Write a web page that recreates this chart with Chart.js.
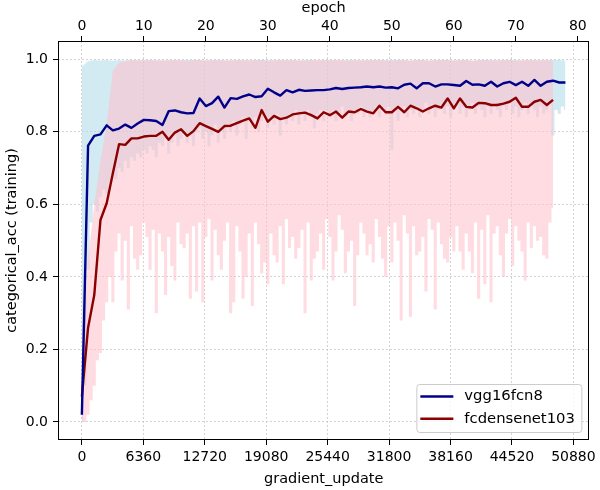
<!DOCTYPE html>
<html><head><meta charset="utf-8">
<script src="https://cdn.jsdelivr.net/npm/chart.js@4"></script>
<style>html,body{margin:0;padding:0;background:#fff}canvas{display:block}</style>
</head><body>
<canvas id="c" width="600" height="490" style="width:600px;height:490px"></canvas>
<script>
// ---- data ----
const seriesNames = ['vgg16fcn8', 'fcdensenet103'];
// epoch means (one value per epoch, epoch 0..78 / 0..76)
const vggEpochAcc = [0.02,0.762,0.789,0.793,0.818,0.804,0.809,0.820,0.811,0.823,
  0.833,0.832,0.830,0.819,0.857,0.859,0.854,0.851,0.852,0.892,
  0.871,0.879,0.897,0.867,0.893,0.891,0.898,0.903,0.896,0.898,
  0.919,0.909,0.900,0.915,0.909,0.916,0.913,0.914,0.915,0.915,
  0.917,0.921,0.918,0.921,0.922,0.923,0.925,0.923,0.925,0.922,
  0.923,0.920,0.930,0.933,0.920,0.934,0.934,0.925,0.931,0.931,
  0.929,0.927,0.940,0.930,0.931,0.927,0.938,0.925,0.934,0.938,
  0.929,0.938,0.927,0.943,0.927,0.938,0.941,0.936,0.936];
const denseEpochAcc = [0.07,0.26,0.35,0.557,0.603,0.686,0.766,0.764,0.782,0.782,
  0.787,0.789,0.789,0.800,0.778,0.798,0.807,0.789,0.802,0.824,
  0.816,0.808,0.800,0.816,0.817,0.824,0.831,0.837,0.811,0.860,
  0.828,0.844,0.835,0.839,0.848,0.851,0.853,0.846,0.837,0.854,
  0.846,0.856,0.839,0.856,0.854,0.863,0.856,0.851,0.872,0.854,
  0.854,0.869,0.854,0.872,0.865,0.856,0.865,0.872,0.867,0.892,
  0.865,0.892,0.869,0.867,0.880,0.879,0.874,0.874,0.878,0.883,
  0.894,0.869,0.869,0.883,0.888,0.874,0.888];
// per-update accuracy envelope: upper edge per epoch, lower edge per half epoch
const vggNoiseHi = [0.98,0.995,0.998,0.997,0.998,0.996,0.998,0.997,0.998,0.998,
  0.997,0.998,0.998,0.996,0.998,0.998,0.997,0.998,0.998,0.998,
  0.997,0.998,0.998,0.998,0.996,0.998,0.998,0.997,0.998,0.998,
  0.998,0.997,0.998,0.998,0.998,0.996,0.998,0.998,0.997,0.998,
  0.998,0.998,0.997,0.998,0.998,0.996,0.998,0.998,0.998,0.997,
  0.998,0.998,0.998,0.996,0.998,0.998,0.997,0.998,0.998,0.998,
  0.997,0.998,0.998,0.996,0.998,0.998,0.998,0.997,0.998,0.998,
  0.998,0.996,0.998,0.998,0.997,0.998,0.998,0.998,0.997];
const vggNoiseLo = [0.00,0.10,0.42,0.55,0.60,0.58,0.62,0.64,0.63,0.66,
  0.68,0.67,0.70,0.69,0.72,0.70,0.73,0.72,0.74,0.73,
  0.75,0.74,0.76,0.75,0.73,0.77,0.76,0.78,0.74,0.77,
  0.79,0.76,0.78,0.80,0.77,0.79,0.76,0.80,0.81,0.78,
  0.80,0.76,0.79,0.82,0.77,0.81,0.78,0.82,0.80,0.83,
  0.79,0.82,0.84,0.78,0.83,0.81,0.84,0.80,0.83,0.85,
  0.81,0.84,0.82,0.85,0.79,0.84,0.82,0.85,0.83,0.86,
  0.82,0.85,0.83,0.86,0.84,0.81,0.85,0.86,0.83,0.86,
  0.84,0.86,0.83,0.85,0.87,0.84,0.86,0.83,0.86,0.85,
  0.87,0.84,0.86,0.84,0.85,0.87,0.84,0.86,0.85,0.87,
  0.75,0.86,0.83,0.86,0.87,0.84,0.86,0.85,0.87,0.84,
  0.86,0.88,0.85,0.87,0.84,0.86,0.87,0.85,0.87,0.84,
  0.86,0.88,0.85,0.87,0.84,0.86,0.88,0.85,0.87,0.86,
  0.84,0.87,0.85,0.88,0.86,0.84,0.87,0.86,0.88,0.85,
  0.87,0.84,0.86,0.88,0.85,0.87,0.86,0.84,0.87,0.85,
  0.86,0.88,0.79,0.86,0.85,0.87,0.86];
const denseNoiseHi = [0.20,0.45,0.60,0.72,0.82,0.97,0.99,0.996,0.998,0.997,
  0.998,0.998,0.996,0.998,0.997,0.998,0.998,0.996,0.998,0.998,
  0.997,0.998,0.998,0.996,0.998,0.998,0.997,0.998,0.998,0.998,
  0.996,0.998,0.998,0.997,0.998,0.998,0.996,0.998,0.998,0.998,
  0.997,0.998,0.998,0.996,0.998,0.998,0.997,0.998,0.998,0.998,
  0.996,0.998,0.998,0.997,0.998,0.998,0.996,0.998,0.998,0.998,
  0.997,0.998,0.998,0.996,0.998,0.998,0.997,0.998,0.998,0.998,
  0.996,0.998,0.998,0.997,0.998,0.998,0.996];
const denseNoiseLo = [0.00,0.00,0.02,0.06,0.10,0.17,0.19,0.28,0.33,0.40,
  0.33,0.47,0.52,0.39,0.50,0.31,0.54,0.45,0.42,0.46,
  0.55,0.51,0.42,0.53,0.30,0.52,0.47,0.35,0.51,0.43,
  0.39,0.55,0.49,0.48,0.52,0.34,0.54,0.36,0.55,0.33,
  0.51,0.56,0.39,0.53,0.46,0.42,0.50,0.55,0.30,0.33,
  0.54,0.47,0.34,0.40,0.52,0.32,0.55,0.49,0.41,0.44,
  0.38,0.52,0.46,0.44,0.54,0.38,0.56,0.48,0.51,0.45,
  0.48,0.53,0.30,0.55,0.39,0.45,0.47,0.52,0.42,0.56,
  0.51,0.39,0.47,0.57,0.53,0.41,0.47,0.50,0.32,0.46,
  0.55,0.52,0.46,0.49,0.44,0.56,0.51,0.45,0.40,0.54,
  0.44,0.55,0.50,0.28,0.57,0.52,0.29,0.54,0.46,0.47,
  0.51,0.36,0.56,0.53,0.31,0.55,0.49,0.45,0.44,0.51,
  0.47,0.54,0.47,0.42,0.52,0.47,0.41,0.55,0.34,0.53,
  0.38,0.57,0.33,0.52,0.54,0.46,0.40,0.52,0.56,0.43,
  0.54,0.50,0.47,0.39,0.55,0.48,0.54,0.50,0.51,0.46,
  0.45,0.55,0.59];
// tick labels
const epochTicks = [0,10,20,30,40,50,60,70,80];
const updateTicks = [0,6360,12720,19080,25440,31800,38160,44520,50880];
const accTicks = [0.0,0.2,0.4,0.6,0.8,1.0];

// ---- chart ----
const byEpoch = arr => arr.map((v,i)=>({x:i, y:v}));
const byHalfEpoch = arr => arr.map((v,i)=>({x:i/2, y:v}));
const FONT = {family:'DejaVu Sans', size:14};
const TFONT = {family:'DejaVu Sans', size:14.5};
const blueFill = 'rgba(173,216,230,0.55)';
const pinkFill = 'rgba(255,192,203,0.55)';

const framePlugin = {
  id:'frame',
  afterDatasetsDraw(chart){
    const {ctx, chartArea:a} = chart;
    ctx.save();
    ctx.strokeStyle = '#000'; ctx.lineWidth = 1;
    ctx.strokeRect(Math.round(a.left)+0.5, Math.round(a.top)+0.5, Math.round(a.width)-1, Math.round(a.height)-1);
    // legend
    const w = 165, h = 48;
    const x0 = a.right - 8 - w, y0 = a.bottom - 8 - h;
    ctx.beginPath();
    if (ctx.roundRect) ctx.roundRect(x0+0.5, y0+0.5, w, h, 3); else ctx.rect(x0+0.5,y0+0.5,w,h);
    ctx.fillStyle = 'rgba(255,255,255,0.8)'; ctx.fill();
    ctx.strokeStyle = '#cccccc'; ctx.lineWidth = 1; ctx.stroke();
    const cols = ['#00008b', '#8b0000'];
    ctx.font = '14.8px "DejaVu Sans"';
    ctx.textBaseline = 'middle'; ctx.textAlign = 'left';
    seriesNames.forEach((name, i) => {
      const yy = y0 + 12.5 + i*22.3;
      ctx.beginPath(); ctx.moveTo(x0+4, yy); ctx.lineTo(x0+37, yy);
      ctx.strokeStyle = cols[i]; ctx.lineWidth = 2.4; ctx.stroke();
      ctx.fillStyle = '#000'; ctx.fillText(name, x0+48, yy);
    });
    ctx.restore();
  }
};

const noiseDs = (data, color, fillTarget, order, stepped) => ({
  data, xAxisID:'x2', borderWidth:0, borderColor:'rgba(0,0,0,0)', pointRadius:0,
  backgroundColor: color, fill: fillTarget, order, stepped: stepped || false, tension:0
});

new Chart(document.getElementById('c'), {
  type:'line',
  data:{datasets:[
    {label:seriesNames[0], data:byEpoch(vggEpochAcc), xAxisID:'x2', borderColor:'#00008b', borderWidth:2.4, pointRadius:0, fill:false, order:0, borderJoinStyle:'round'},
    {label:seriesNames[1], data:byEpoch(denseEpochAcc), xAxisID:'x2', borderColor:'#8b0000', borderWidth:2.4, pointRadius:0, fill:false, order:1, borderJoinStyle:'round'},
    noiseDs(byEpoch(vggNoiseHi), blueFill, false, 4),
    noiseDs(byHalfEpoch(vggNoiseLo), blueFill, 2, 4, 'middle'),
    noiseDs(byEpoch(denseNoiseHi), pinkFill, false, 3),
    noiseDs(byHalfEpoch(denseNoiseLo), pinkFill, 4, 3, 'middle')
  ]},
  options:{
    responsive:false, animation:false, events:[],
    layout:{padding:{left:0, right:8, top:0, bottom:0}},
    plugins:{legend:{display:false}, tooltip:{enabled:false}},
    scales:{
      x:{type:'linear', position:'bottom', min:-2472, max:52530,
        afterBuildTicks:s=>{s.ticks = updateTicks.map(v=>({value:v}));},
        afterFit:s=>{s.height = 50;},
        ticks:{callback:v=>String(v), font:FONT, color:'#000', padding:4, maxRotation:0, autoSkip:false},
        grid:{color:'#c8c8c8', lineWidth:0.8, tickColor:'#000', tickLength:5, tickWidth:1, tickBorderDash:[]},
        border:{display:false, dash:[2,2]},
        title:{display:true, text:'gradient_update', font:TFONT, color:'#000', padding:{top:0, bottom:2}}
      },
      x2:{type:'linear', position:'top', min:-3.85, max:81.86,
        afterBuildTicks:s=>{s.ticks = epochTicks.map(v=>({value:v}));},
        afterFit:s=>{s.height = 41;},
        ticks:{callback:v=>String(v), font:FONT, color:'#000', padding:1, maxRotation:0, autoSkip:false},
        grid:{drawOnChartArea:false, color:'#000', tickColor:'#000', tickLength:5, tickWidth:1},
        border:{display:false},
        title:{display:true, text:'epoch', font:TFONT, color:'#000', padding:{top:0, bottom:0}}
      },
      y:{type:'linear', position:'left', min:-0.0497, max:1.0505,
        afterBuildTicks:s=>{s.ticks = accTicks.map(v=>({value:v}));},
        afterFit:s=>{s.width = 58;},
        ticks:{callback:v=>Number(v).toFixed(1), font:FONT, color:'#000', padding:5},
        grid:{color:'#c8c8c8', lineWidth:0.8, tickColor:'#000', tickLength:5, tickWidth:1, tickBorderDash:[]},
        border:{display:false, dash:[2,2]},
        title:{display:true, text:'categorical_acc (training)', font:TFONT, color:'#000', padding:{top:3.4, bottom:0}}
      }
    }
  },
  plugins:[framePlugin]
});
</script>
</body></html>
